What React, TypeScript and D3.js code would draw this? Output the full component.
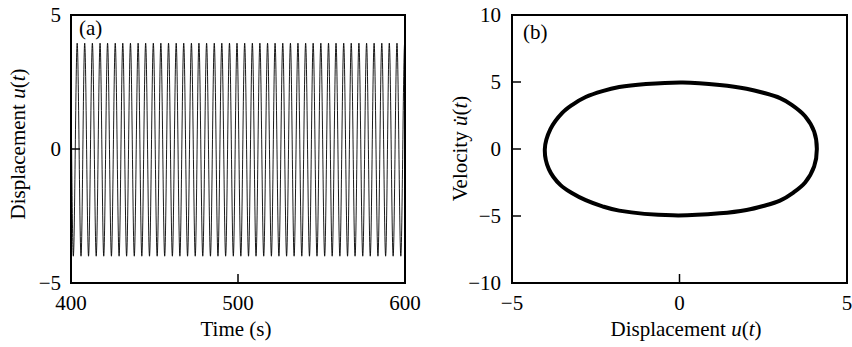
import React from "react";
import * as d3 from "d3";

const W = 852;
const H = 347;

// (a) displacement time history, turning points: [time (s), u]
const timeHistory: [number, number][] = [
  [400, 2.5], [401.4, -4.0], [403.7, 3.95], [406.0, -4.0], [408.2, 3.95], [410.5, -4.0],
  [412.8, 3.95], [415.1, -4.0], [417.4, 3.95], [419.6, -4.0], [421.9, 3.95], [424.2, -4.0],
  [426.5, 3.95], [428.8, -4.0], [431.0, 3.95], [433.3, -4.0], [435.6, 3.95], [437.9, -4.0],
  [440.2, 3.95], [442.4, -4.0], [444.7, 3.95], [447.0, -4.0], [449.3, 3.95], [451.6, -4.0],
  [453.8, 3.95], [456.1, -4.0], [458.4, 3.95], [460.7, -4.0], [463.0, 3.95], [465.2, -4.0],
  [467.5, 3.95], [469.8, -4.0], [472.1, 3.95], [474.4, -4.0], [476.6, 3.95], [478.9, -4.0],
  [481.2, 3.95], [483.5, -4.0], [485.8, 3.95], [488.0, -4.0], [490.3, 3.95], [492.6, -4.0],
  [494.9, 3.95], [497.2, -4.0], [499.4, 3.95], [501.7, -4.0], [504.0, 3.95], [506.3, -4.0],
  [508.6, 3.95], [510.8, -4.0], [513.1, 3.95], [515.4, -4.0], [517.7, 3.95], [520.0, -4.0],
  [522.2, 3.95], [524.5, -4.0], [526.8, 3.95], [529.1, -4.0], [531.4, 3.95], [533.6, -4.0],
  [535.9, 3.95], [538.2, -4.0], [540.5, 3.95], [542.8, -4.0], [545.0, 3.95], [547.3, -4.0],
  [549.6, 3.95], [551.9, -4.0], [554.2, 3.95], [556.4, -4.0], [558.7, 3.95], [561.0, -4.0],
  [563.3, 3.95], [565.6, -4.0], [567.8, 3.95], [570.1, -4.0], [572.4, 3.95], [574.7, -4.0],
  [577.0, 3.95], [579.2, -4.0], [581.5, 3.95], [583.8, -4.0], [586.1, 3.95], [588.4, -4.0],
  [590.6, 3.95], [592.9, -4.0], [595.2, 3.95], [597.5, -4.0], [599.8, 3.95], [600, 3.9],
];

// (b) phase portrait, points around the limit cycle: [u, velocity]
const phaseLoop: [number, number][] = [
  [4.1, 0], [4.02, 1.3], [3.75, 2.45], [3.35, 3.3], [3.0, 3.8], [2.5, 4.2], [2.0, 4.5],
  [1.2, 4.78], [0.1, 4.97], [-1.0, 4.85], [-1.8, 4.62], [-2.3, 4.32], [-2.8, 3.88],
  [-3.2, 3.3], [-3.5, 2.7], [-3.85, 1.5], [-4.02, 0], [-3.9, -1.5], [-3.55, -2.7],
  [-3.2, -3.3], [-2.8, -3.82], [-2.3, -4.28], [-1.8, -4.6], [-0.2, -4.95], [1.2, -4.8],
  [2.0, -4.55], [2.5, -4.25], [3.0, -3.85], [3.4, -3.25], [3.75, -2.5], [4.02, -1.3],
];

const timeTicks = [400, 500, 600];
const dispTicks = [-5, 0, 5];
const velTicks = [-10, -5, 0, 5, 10];

const FONT = "'Liberation Serif', 'Times New Roman', serif";
const FS = 21;
const TICK = 9;
const fmt = (v: number) => (v < 0 ? "\u2212" + Math.abs(v) : String(v));

export default function App() {
  // panel (a)
  const xa = d3.scaleLinear().domain([400, 600]).range([71, 405]);
  const ya = d3.scaleLinear().domain([-5, 5]).range([283, 15]);
  // panel (b)
  const xb = d3.scaleLinear().domain([-5, 5]).range([512, 847]);
  const yb = d3.scaleLinear().domain([-10, 10]).range([283, 15]);

  const lineA = d3
    .line<[number, number]>()
    .x((d) => xa(d[0]))
    .y((d) => ya(d[1]))
    .curve(d3.curveMonotoneX)(timeHistory) as string;

  const lineB = d3
    .line<[number, number]>()
    .x((d) => xb(d[0]))
    .y((d) => yb(d[1]))
    .curve(d3.curveCatmullRomClosed.alpha(0.5))(phaseLoop) as string;

  return (
    <svg
      width={W}
      height={H}
      style={{ position: "absolute", left: 0, top: 0, background: "#fff" }}
      fontFamily={FONT}
      fontSize={FS}
    >
      {/* ---- (a) ---- */}
      <defs>
        <clipPath id="clipA">
          <rect x={71} y={15} width={334} height={268} />
        </clipPath>
      </defs>
      <path d={lineA} fill="none" stroke="#000" strokeWidth={0.9} clipPath="url(#clipA)" />
      <rect x={71} y={15} width={334} height={268} fill="none" stroke="#000" strokeWidth={2} />
      {dispTicks.map((v) => (
        <g key={"ay" + v}>
          <line x1={71} x2={71 + TICK} y1={ya(v)} y2={ya(v)} stroke="#000" strokeWidth={1.5} />
          <text x={61} y={ya(v)} dy="0.35em" textAnchor="end">
            {fmt(v)}
          </text>
        </g>
      ))}
      {timeTicks.map((v) => (
        <g key={"ax" + v}>
          <line x1={xa(v)} x2={xa(v)} y1={283} y2={283 - TICK} stroke="#000" strokeWidth={1.5} />
          <text x={xa(v)} y={310} textAnchor="middle">
            {v}
          </text>
        </g>
      ))}
      <text x={79} y={35}>(a)</text>
      <text x={236} y={336} textAnchor="middle">Time (s)</text>
      <text transform="translate(24.5,144) rotate(-90)" textAnchor="middle">
        Displacement <tspan fontStyle="italic">u</tspan>(<tspan fontStyle="italic">t</tspan>)
      </text>

      {/* ---- (b) ---- */}
      <path d={lineB} fill="none" stroke="#000" strokeWidth={4} strokeLinejoin="round" />
      <rect x={512} y={15} width={335} height={268} fill="none" stroke="#000" strokeWidth={2} />
      {velTicks.map((v) => (
        <g key={"by" + v}>
          <line x1={512} x2={512 + TICK} y1={yb(v)} y2={yb(v)} stroke="#000" strokeWidth={1.5} />
          <text x={501} y={yb(v)} dy="0.35em" textAnchor="end">
            {fmt(v)}
          </text>
        </g>
      ))}
      {dispTicks.map((v) => (
        <g key={"bx" + v}>
          <line x1={xb(v)} x2={xb(v)} y1={283} y2={283 - TICK} stroke="#000" strokeWidth={1.5} />
          <text x={xb(v)} y={310} textAnchor="middle">
            {fmt(v)}
          </text>
        </g>
      ))}
      <text x={523} y={39}>(b)</text>
      <text x={686} y={336} textAnchor="middle">
        Displacement <tspan fontStyle="italic">u</tspan>(<tspan fontStyle="italic">t</tspan>)
      </text>
      <text transform="translate(467,148.5) rotate(-90)" textAnchor="middle">
        Velocity <tspan fontStyle="italic">{"u\u0307"}</tspan>(<tspan fontStyle="italic">t</tspan>)
      </text>
    </svg>
  );
}
